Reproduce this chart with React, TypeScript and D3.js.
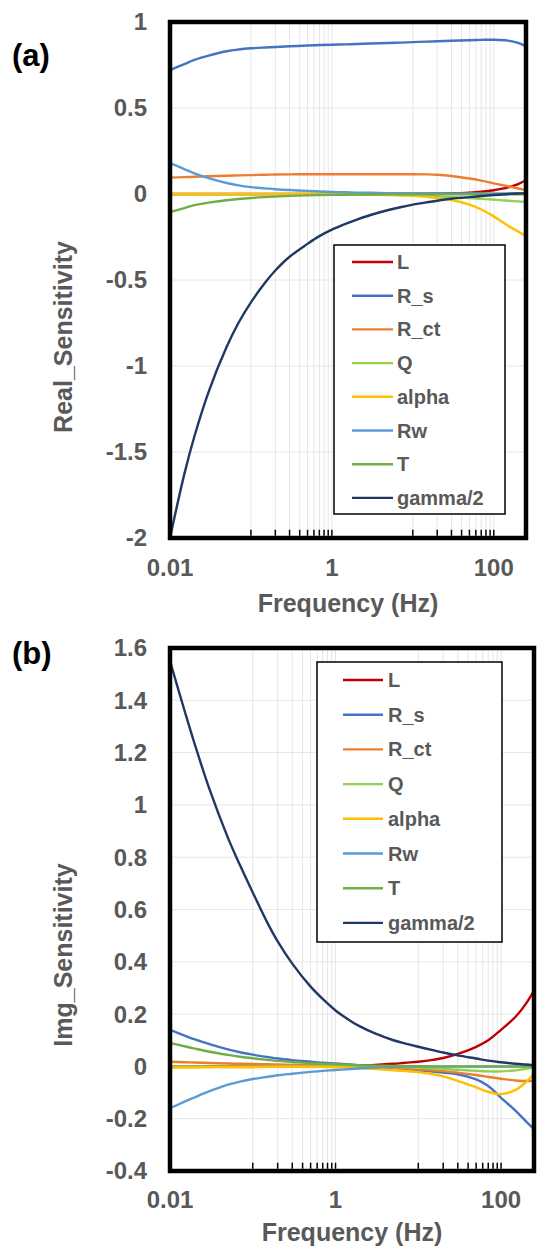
import React from 'react';
import * as d3 from 'd3';

const freq = [0.01, 0.015, 0.02, 0.03, 0.05, 0.07, 0.1, 0.15, 0.2, 0.3, 0.5, 0.7, 1, 1.5, 2, 3, 5, 7, 10, 15, 20, 30, 50, 70, 100, 150, 200, 250];

const seriesNames = ['L', 'R_s', 'R_ct', 'Q', 'alpha', 'Rw', 'T', 'gamma/2'];
const seriesColors = ['#C00000', '#4472C4', '#ED7D31', '#92D050', '#FFC000', '#5B9BD5', '#70AD47', '#203864'];

// Panel (a): real sensitivity
const realL = [0, 0, 0, 0, 0, 0, 0, 0, 0, 0, 0, 0, 0, 0, 0, 0, 0, 0, 0.001, 0.002, 0.003, 0.004, 0.008, 0.013, 0.022, 0.038, 0.058, 0.08];
const realRs = [0.72, 0.755, 0.78, 0.805, 0.83, 0.84, 0.847, 0.852, 0.855, 0.859, 0.863, 0.866, 0.868, 0.87, 0.872, 0.875, 0.878, 0.88, 0.883, 0.886, 0.888, 0.891, 0.894, 0.896, 0.897, 0.892, 0.878, 0.858];
const realRct = [0.095, 0.098, 0.1, 0.103, 0.106, 0.108, 0.11, 0.112, 0.113, 0.114, 0.115, 0.115, 0.115, 0.115, 0.115, 0.115, 0.115, 0.115, 0.115, 0.114, 0.112, 0.105, 0.09, 0.078, 0.062, 0.045, 0.032, 0.022];
const realQ = [-0.002, -0.002, -0.002, -0.002, -0.002, -0.002, -0.002, -0.002, -0.002, -0.002, -0.002, -0.002, -0.002, -0.002, -0.003, -0.004, -0.006, -0.007, -0.009, -0.012, -0.014, -0.018, -0.024, -0.028, -0.033, -0.039, -0.043, -0.046];
const realAlpha = [0, 0, 0, 0, 0, 0, 0, 0, 0, 0, 0, 0, 0, 0, 0, -0.002, -0.004, -0.007, -0.01, -0.017, -0.024, -0.035, -0.062, -0.09, -0.13, -0.185, -0.218, -0.245];
const realRw = [0.18, 0.145, 0.12, 0.092, 0.064, 0.05, 0.04, 0.033, 0.028, 0.023, 0.018, 0.015, 0.012, 0.01, 0.008, 0.007, 0.005, 0.005, 0.004, 0.004, 0.003, 0.003, 0.003, 0.003, 0.003, 0.003, 0.003, 0.003];
const realT = [-0.105, -0.082, -0.065, -0.05, -0.036, -0.029, -0.023, -0.018, -0.015, -0.011, -0.008, -0.006, -0.005, -0.004, -0.003, -0.003, -0.002, -0.002, -0.002, -0.002, -0.002, -0.002, -0.002, -0.002, -0.002, -0.002, -0.002, -0.002];
const realGamma = [-2.0, -1.63, -1.41, -1.15, -0.89, -0.75, -0.63, -0.515, -0.445, -0.365, -0.29, -0.245, -0.207, -0.172, -0.15, -0.122, -0.093, -0.077, -0.062, -0.048, -0.039, -0.028, -0.018, -0.012, -0.006, 0.0, 0.003, 0.005];

// Panel (b): imaginary sensitivity
const imgL = [0, 0, 0, 0, 0, 0, 0, 0, 0, 0, 0, 0, 0.001, 0.002, 0.004, 0.006, 0.01, 0.014, 0.018, 0.025, 0.032, 0.048, 0.075, 0.1, 0.14, 0.19, 0.24, 0.29];
const imgRs = [0.14, 0.118, 0.103, 0.085, 0.065, 0.054, 0.045, 0.036, 0.03, 0.024, 0.018, 0.014, 0.011, 0.007, 0.004, 0.0, -0.005, -0.01, -0.015, -0.02, -0.024, -0.03, -0.05, -0.075, -0.12, -0.17, -0.21, -0.24];
const imgRct = [0.018, 0.016, 0.015, 0.013, 0.011, 0.01, 0.009, 0.008, 0.007, 0.006, 0.005, 0.004, 0.003, 0.002, 0.0, -0.002, -0.005, -0.008, -0.011, -0.015, -0.018, -0.024, -0.033, -0.04, -0.047, -0.054, -0.056, -0.054];
const imgQ = [0, 0, 0, 0, 0, 0, 0, 0, 0, 0, 0, 0, 0, 0, 0, 0, -0.002, -0.003, -0.005, -0.007, -0.01, -0.013, -0.017, -0.019, -0.019, -0.015, -0.009, -0.003];
const imgAlpha = [-0.004, -0.004, -0.004, -0.003, -0.003, -0.003, -0.003, -0.002, -0.002, -0.002, -0.002, -0.002, -0.003, -0.005, -0.007, -0.01, -0.015, -0.018, -0.022, -0.03, -0.038, -0.055, -0.08, -0.097, -0.106, -0.09, -0.06, -0.027];
const imgRw = [-0.16, -0.135, -0.118, -0.095, -0.07, -0.058, -0.048, -0.04, -0.034, -0.028, -0.021, -0.017, -0.014, -0.01, -0.007, -0.004, -0.002, -0.001, -0.001, -0.001, -0.001, -0.001, -0.001, -0.001, -0.001, -0.001, -0.001, -0.001];
const imgT = [0.09, 0.077, 0.068, 0.056, 0.044, 0.037, 0.031, 0.025, 0.021, 0.017, 0.012, 0.01, 0.008, 0.006, 0.004, 0.003, 0.002, 0.001, 0.001, 0, 0, 0, 0, 0, 0, 0, 0, 0];
const imgGamma = [1.55, 1.36, 1.23, 1.06, 0.875, 0.77, 0.665, 0.55, 0.478, 0.393, 0.305, 0.258, 0.214, 0.175, 0.152, 0.126, 0.1, 0.087, 0.075, 0.062, 0.053, 0.042, 0.03, 0.022, 0.016, 0.01, 0.007, 0.005];

const realTicks = [1, 0.5, 0, -0.5, -1, -1.5, -2];
const realTickLabels = ['1', '0.5', '0', '-0.5', '-1', '-1.5', '-2'];
const imgTicks = [1.6, 1.4, 1.2, 1, 0.8, 0.6, 0.4, 0.2, 0, -0.2, -0.4];
const imgTickLabels = ['1.6', '1.4', '1.2', '1', '0.8', '0.6', '0.4', '0.2', '0', '-0.2', '-0.4'];
const xTicks = [0.01, 1, 100];
const xTickLabels = ['0.01', '1', '100'];
const xDomain = [0.01, 250];

const minorTicks: number[] = [];
for (let k = 1; k <= 10; k++) minorTicks.push(k * 0.1);
for (let k = 1; k <= 10; k++) minorTicks.push(k * 10);

const FONT = '"Liberation Sans", Arial, Helvetica, sans-serif';
const GRAY = '#595959';

type PanelProps = {
  box: { x0: number; x1: number; y0: number; y1: number };
  yDomain: [number, number];
  yTicks: number[];
  yTickLabels: string[];
  series: number[][];
  legend: { x0: number; x1: number; y0: number; y1: number; rowY: number; rowStep: number; lineX0: number; lineX1: number; textX: number };
  tag: string;
  tagY: number;
  yTitle: string;
  yTitleY: number;
  xLabelY: number;
  xTitleY: number;
  clipId: string;
};

function Panel(p: PanelProps) {
  const { box } = p;
  const x = d3.scaleLog().domain(xDomain).range([box.x0, box.x1]);
  const y = d3.scaleLinear().domain(p.yDomain).range([box.y1, box.y0]);
  const line = d3
    .line<number>()
    .x((_, i) => x(freq[i]))
    .y((d) => y(d))
    .curve(d3.curveCatmullRom.alpha(0.5));
  const bw = 4.5;
  return (
    <g>
      <defs>
        <clipPath id={p.clipId}>
          <rect x={box.x0} y={box.y0} width={box.x1 - box.x0} height={box.y1 - box.y0} />
        </clipPath>
      </defs>
      {p.yTicks.map((t, i) => (
        <line key={'hg' + i} x1={box.x0} x2={box.x1} y1={y(t)} y2={y(t)} stroke="#e6e6e6" strokeWidth={1} />
      ))}
      {minorTicks.map((t, i) => (
        <line key={'vg' + i} x1={x(t)} x2={x(t)} y1={box.y0} y2={box.y1} stroke="#e6e6e6" strokeWidth={1} />
      ))}
      <g clipPath={`url(#${p.clipId})`}>
        {p.series.map((s, i) => (
          <path key={'s' + i} d={line(s) || ''} fill="none" stroke={seriesColors[i]} strokeWidth={2.4} strokeLinejoin="round" />
        ))}
      </g>
      {minorTicks.map((t, i) => (
        <line key={'mt' + i} x1={x(t)} x2={x(t)} y1={box.y1 - bw / 2} y2={box.y1 - bw / 2 - 6} stroke="#000" strokeWidth={1.5} />
      ))}
      <rect x={box.x0} y={box.y0} width={box.x1 - box.x0} height={box.y1 - box.y0} fill="none" stroke="#000" strokeWidth={bw} />
      {p.yTicks.map((t, i) => (
        <text key={'yl' + i} x={147} y={y(t)} dy="0.35em" textAnchor="end" fontFamily={FONT} fontWeight="bold" fontSize={24} fill={GRAY}>
          {p.yTickLabels[i]}
        </text>
      ))}
      {xTicks.map((t, i) => (
        <text key={'xl' + i} x={x(t)} y={p.xLabelY} dy="0.35em" textAnchor="middle" fontFamily={FONT} fontWeight="bold" fontSize={24} fill={GRAY}>
          {xTickLabels[i]}
        </text>
      ))}
      <text x={(box.x0 + box.x1) / 2} y={p.xTitleY} dy="0.35em" textAnchor="middle" fontFamily={FONT} fontWeight="bold" fontSize={25} fill={GRAY}>
        Frequency (Hz)
      </text>
      <text
        transform={`translate(63,${p.yTitleY}) rotate(-90)`}
        dy="0.35em"
        textAnchor="middle"
        fontFamily={FONT}
        fontWeight="bold"
        fontSize={25}
        fill={GRAY}
      >
        {p.yTitle}
      </text>
      <text x={12} y={p.tagY} fontFamily={FONT} fontWeight="bold" fontSize={31} fill="#000">
        {p.tag}
      </text>
      <rect
        x={p.legend.x0}
        y={p.legend.y0}
        width={p.legend.x1 - p.legend.x0}
        height={p.legend.y1 - p.legend.y0}
        fill="#fff"
        stroke="#000"
        strokeWidth={1.5}
      />
      {seriesNames.map((n, i) => {
        const ry = p.legend.rowY + i * p.legend.rowStep;
        return (
          <g key={'lg' + i}>
            <line x1={p.legend.lineX0} x2={p.legend.lineX1} y1={ry} y2={ry} stroke={seriesColors[i]} strokeWidth={2.4} />
            <text x={p.legend.textX} y={ry} dy="0.35em" fontFamily={FONT} fontWeight="bold" fontSize={20} fill={GRAY}>
              {n}
            </text>
          </g>
        );
      })}
    </g>
  );
}

export default function App() {
  return (
    <svg width={550} height={1257} style={{ position: 'absolute', left: 0, top: 0, background: '#fff' }}>
      <rect x={0} y={0} width={550} height={1257} fill="#fff" />
      <Panel
        box={{ x0: 170, x1: 526, y0: 22, y1: 538 }}
        yDomain={[-2, 1]}
        yTicks={realTicks}
        yTickLabels={realTickLabels}
        series={[realL, realRs, realRct, realQ, realAlpha, realRw, realT, realGamma]}
        legend={{ x0: 334, x1: 505, y0: 245, y1: 514, rowY: 262, rowStep: 33.7, lineX0: 352, lineX1: 393, textX: 397 }}
        tag="(a)"
        tagY={66}
        yTitle="Real_Sensitivity"
        yTitleY={337}
        xLabelY={568}
        xTitleY={603}
        clipId="clipA"
      />
      <Panel
        box={{ x0: 170, x1: 534, y0: 648, y1: 1171 }}
        yDomain={[-0.4, 1.6]}
        yTicks={imgTicks}
        yTickLabels={imgTickLabels}
        series={[imgL, imgRs, imgRct, imgQ, imgAlpha, imgRw, imgT, imgGamma]}
        legend={{ x0: 317, x1: 502, y0: 662, y1: 942, rowY: 680, rowStep: 34.7, lineX0: 343, lineX1: 383, textX: 388 }}
        tag="(b)"
        tagY={664}
        yTitle="Img_Sensitivity"
        yTitleY={955}
        xLabelY={1200}
        xTitleY={1232}
        clipId="clipB"
      />
    </svg>
  );
}
